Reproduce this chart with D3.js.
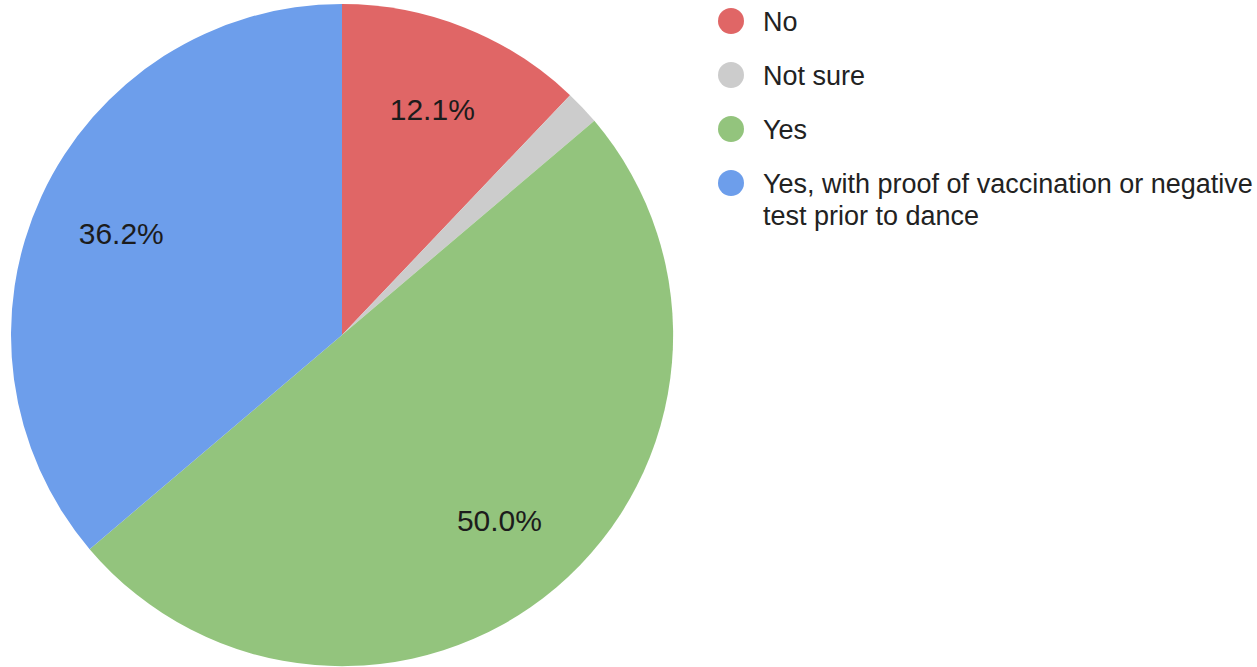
<!DOCTYPE html>
<html>
<head>
<meta charset="utf-8">
<script src="https://cdn.jsdelivr.net/npm/d3@7"></script>
<style>
  body { margin: 0; background: #fff; }
  svg { display: block; font-family: "Liberation Sans", Arial, sans-serif; }
</style>
</head>
<body>
<svg width="1257" height="667"></svg>
<script>
// answers, in the order the pie goes round (clockwise from 12 o'clock)
const categories = ['No', 'Not sure', 'Yes', 'Yes, with proof of vaccination or negative test prior to dance'];
const percents = [12.1, 1.7, 50.0, 36.2];
const colors = ['#e06666', '#cccccc', '#93c47d', '#6d9eeb'];
// legend text, split the way the picture wraps it
const legendLines = [['No'], ['Not sure'], ['Yes'], ['Yes, with proof of vaccination or negative', 'test prior to dance']];

const svg = d3.select('svg');
const cx = 342, cy = 335, radius = 331;

const pie = d3.pie().sort(null).value((d) => d.value);
const arcs = pie(categories.map((c, i) => ({ name: c, value: percents[i] })));

const arc = d3.arc().innerRadius(0).outerRadius(radius);
const labelArc = d3.arc().innerRadius(radius * 0.735).outerRadius(radius * 0.735);

const color = d3.scaleOrdinal().domain(categories).range(colors);

const g = svg.append('g').attr('transform', `translate(${cx},${cy})`);

g.selectAll('path')
    .data(arcs)
    .enter()
    .append('path')
    .attr('d', arc)
    .attr('fill', (d) => color(d.data.name));

// only slices big enough get a label
g.selectAll('text')
    .data(arcs.filter((d) => d.data.value > 5))
    .enter()
    .append('text')
    .attr('transform', (d) => `translate(${labelArc.centroid(d)})`)
    .attr('text-anchor', 'middle')
    .attr('dy', '0.36em')
    .attr('fill', '#1c1c1c')
    .style('font-size', '30px')
    .text((d) => d.data.value.toFixed(1) + '%');

// legend
const legend = svg.append('g').attr('transform', 'translate(731,21)');
const item = legend
    .selectAll('g')
    .data(categories)
    .enter()
    .append('g')
    .attr('transform', (d, i) => `translate(0,${i * 54})`);

item.append('circle')
    .attr('r', 13)
    .attr('fill', (d) => color(d));

item.append('text')
    .attr('x', 32)
    .attr('y', 10)
    .attr('fill', '#222')
    .style('font-size', '27px')
    .selectAll('tspan')
    .data((d, i) => legendLines[i])
    .enter()
    .append('tspan')
    .attr('x', 32)
    .attr('dy', (d, i) => (i === 0 ? 0 : 32))
    .text((d) => d);
</script>
</body>
</html>
